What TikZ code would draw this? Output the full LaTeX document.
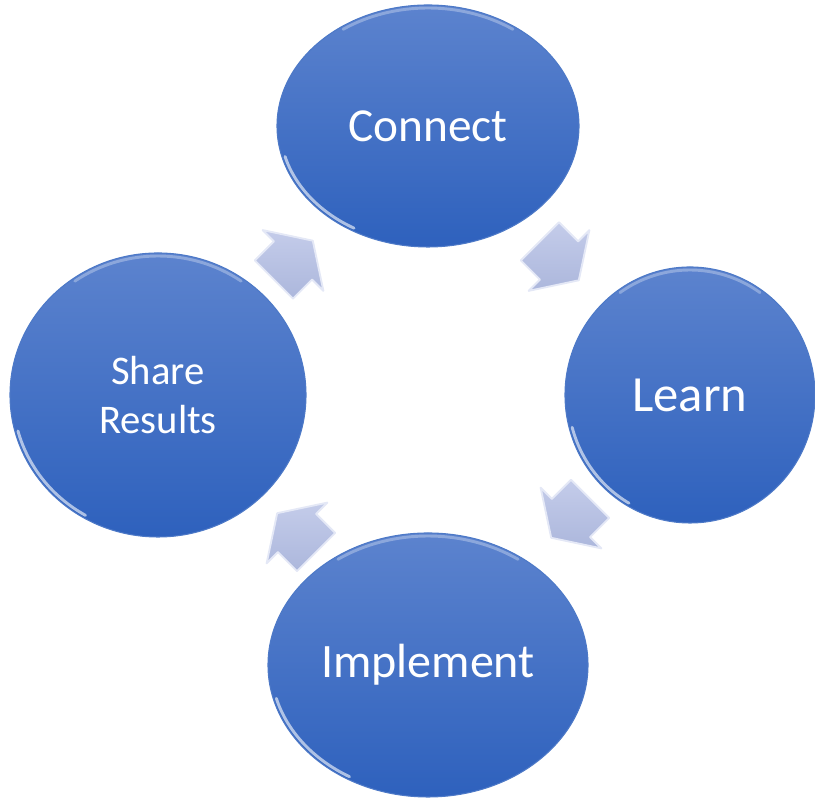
\documentclass[tikz,border=0pt]{standalone}
\usepackage{fontspec}
\setmainfont{Carlito}
\usetikzlibrary{calc,shapes.geometric}

\definecolor{bubbletop}{RGB}{92,131,206}
\definecolor{bubblebottom}{RGB}{46,97,189}
\definecolor{arrowtop}{RGB}{196,204,234}
\definecolor{arrowbottom}{RGB}{172,183,220}

\tikzset{
  bubble/.style={ellipse, inner sep=0pt, top color=bubbletop, bottom color=bubblebottom,
    draw=bubblebottom!85!white, line width=0.8pt, text=white, align=center},
  glint/.style={white, line width=2.2pt, opacity=0.6, line cap=round},
  flow/.style={top color=arrowtop, bottom color=arrowbottom, draw=white!55!arrowtop,
    line width=1.4pt, line join=round}
}

\begin{document}
\begin{tikzpicture}[x=0.75pt,y=0.75pt]
              \useasboundingbox (0,0) rectangle (815,798);
              % the four steps
              \node[bubble, minimum width=226.5pt, minimum height=181.5pt, font=\fontsize{35.5}{42}\selectfont] (connect) at (428,672) {Connect};
              \node[bubble, minimum width=187.5pt, minimum height=192pt, font=\fontsize{38}{45}\selectfont] (learn) at (690,403) {Learn};
              \node[bubble, minimum width=240pt, minimum height=198pt, font=\fontsize{36}{43}\selectfont] (implement) at (428,133) {Implement};
              \node[bubble, minimum width=222pt, minimum height=213pt, font=\fontsize{30.5}{37}\selectfont] (share) at (158,403) {Share\\Results};
              \foreach \n/\a/\b in {connect/151/121, learn/125/128, implement/160/132, share/148/142} {
                \draw[glint] ($(\n.center)+(195:{\a-3} and {\b-3})$) arc[start angle=195, end angle=240, x radius=\a-3, y radius=\b-3];
                \draw[glint, opacity=0.3] ($(\n.center)+(55:{\a-3} and {\b-3})$) arc[start angle=55, end angle=125, x radius=\a-3, y radius=\b-3];
              }
              % arrows between the steps
              \draw[flow, shift={($(share)!0.5!(connect)$)}, rotate=45] (-27,-27) -- (0,-27) -- (0,-43) -- (28,0) -- (0,43) -- (0,27) -- (-27,27) -- cycle;
              \draw[flow, shift={($(connect)!0.5!(learn)$)}, rotate=-45] (-27,-27) -- (0,-27) -- (0,-43) -- (28,0) -- (0,43) -- (0,27) -- (-27,27) -- cycle;
              \draw[flow, shift={($(learn)!0.5!(implement)+(12,12)$)}, rotate=-135] (-27,-27) -- (0,-27) -- (0,-43) -- (28,0) -- (0,43) -- (0,27) -- (-27,27) -- cycle;
              \draw[flow, shift={($(implement)!0.5!(share)+(4,-3)$)}, rotate=135] (-27,-27) -- (0,-27) -- (0,-43) -- (28,0) -- (0,43) -- (0,27) -- (-27,27) -- cycle;
            \end{tikzpicture}
\end{document}
